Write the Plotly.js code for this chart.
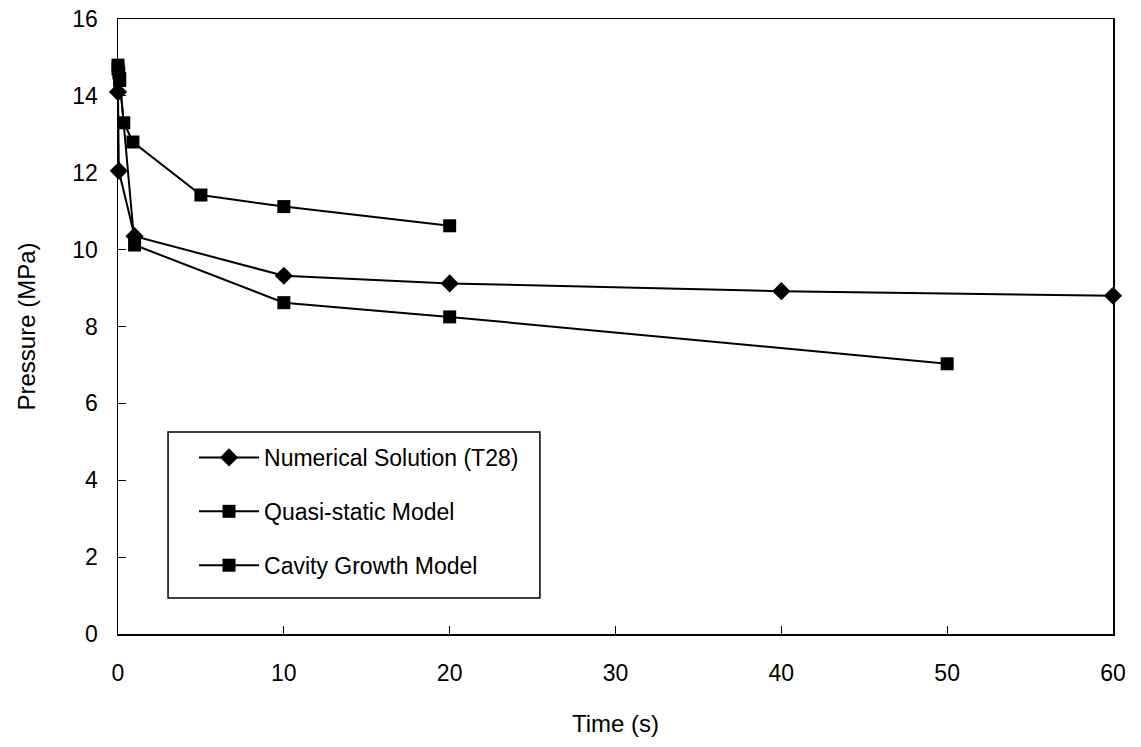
<!DOCTYPE html>
<html>
<head>
<meta charset="utf-8">
<script src="https://cdn.plot.ly/plotly-3.0.1.min.js"></script>
<style>html,body{margin:0;padding:0;background:#fff;}#chart{width:1141px;height:747px;}</style>
</head>
<body>
<div id="chart"></div>
<script>
// Numerical Solution (T28)
const numX = [0, 0.05, 1, 10, 20, 40, 60];
const numY = [14.1, 12.05, 10.35, 9.32, 9.12, 8.92, 8.8];
// Quasi-static Model
const qsX = [0, 0.05, 0.1, 0.35, 0.9, 5, 10, 20];
const qsY = [14.8, 14.6, 14.4, 13.3, 12.8, 11.42, 11.12, 10.62];
// Cavity Growth Model
const cgX = [0, 0.1, 1, 10, 20, 50];
const cgY = [14.7, 14.45, 10.12, 8.62, 8.25, 7.03];

const xTicks = [0, 10, 20, 30, 40, 50, 60];
const yTicks = [0, 2, 4, 6, 8, 10, 12, 14, 16];

const font = {family: 'Liberation Sans, Arial, sans-serif', color: '#000'};

const traces = [
  {x: numX, y: numY, name: 'Numerical Solution (T28)', legendgroup: 'a',
   mode: 'lines+markers', cliponaxis: false,
   line: {color: '#000', width: 2}, marker: {symbol: 'diamond', size: 14, color: '#000'}},
  {x: qsX, y: qsY, name: 'Quasi-static Model', legendgroup: 'b',
   mode: 'lines+markers', cliponaxis: false,
   line: {color: '#000', width: 2}, marker: {symbol: 'square', size: 13, color: '#000'}},
  {x: cgX, y: cgY, name: 'Cavity Growth Model', legendgroup: 'c',
   mode: 'lines+markers', cliponaxis: false,
   line: {color: '#000', width: 2}, marker: {symbol: 'square', size: 13, color: '#000'}}
];

const layout = {
  width: 1141, height: 747,
  paper_bgcolor: '#fff', plot_bgcolor: '#fff',
  margin: {l: 118, r: 28, t: 19, b: 113},
  font: Object.assign({size: 24}, font),
  showlegend: true,
  legend: {
    x: 0.0764, y: 0.322, xanchor: 'left', yanchor: 'top',
    borderwidth: 0, bgcolor: 'rgba(0,0,0,0)',
    traceorder: 'grouped', tracegroupgap: 21, itemwidth: 60,
    font: Object.assign({size: 23}, font)
  },
  shapes: [
    {type: 'rect', xref: 'paper', yref: 'paper', x0: 0.0503, x1: 0.424, y0: 0.0585, y1: 0.3285,
     line: {color: '#000', width: 1.5}, fillcolor: '#fff', layer: 'above'}
  ],
  xaxis: {
    range: [0, 60], tickvals: xTicks, ticktext: xTicks.map(String),
    ticks: 'inside', ticklen: 8, tickcolor: '#000', tickwidth: 1,
    showline: true, linecolor: '#000', linewidth: 1.5, mirror: true,
    showgrid: false, zeroline: false, ticklabelstandoff: 18,
    tickfont: Object.assign({size: 23}, font),
    title: {text: 'Time (s)', font: Object.assign({size: 24}, font), standoff: 30}
  },
  yaxis: {
    range: [0, 16], tickvals: yTicks, ticktext: yTicks.map(String),
    ticks: 'inside', ticklen: 8, tickcolor: '#000', tickwidth: 1,
    showline: true, linecolor: '#000', linewidth: 1.5, mirror: true,
    showgrid: false, zeroline: false, ticklabelstandoff: 14,
    tickfont: Object.assign({size: 23}, font),
    title: {text: 'Pressure (MPa)', font: Object.assign({size: 24}, font), standoff: 30}
  }
};

Plotly.newPlot('chart', traces, layout, {displayModeBar: false, staticPlot: true});
</script>
</body>
</html>
